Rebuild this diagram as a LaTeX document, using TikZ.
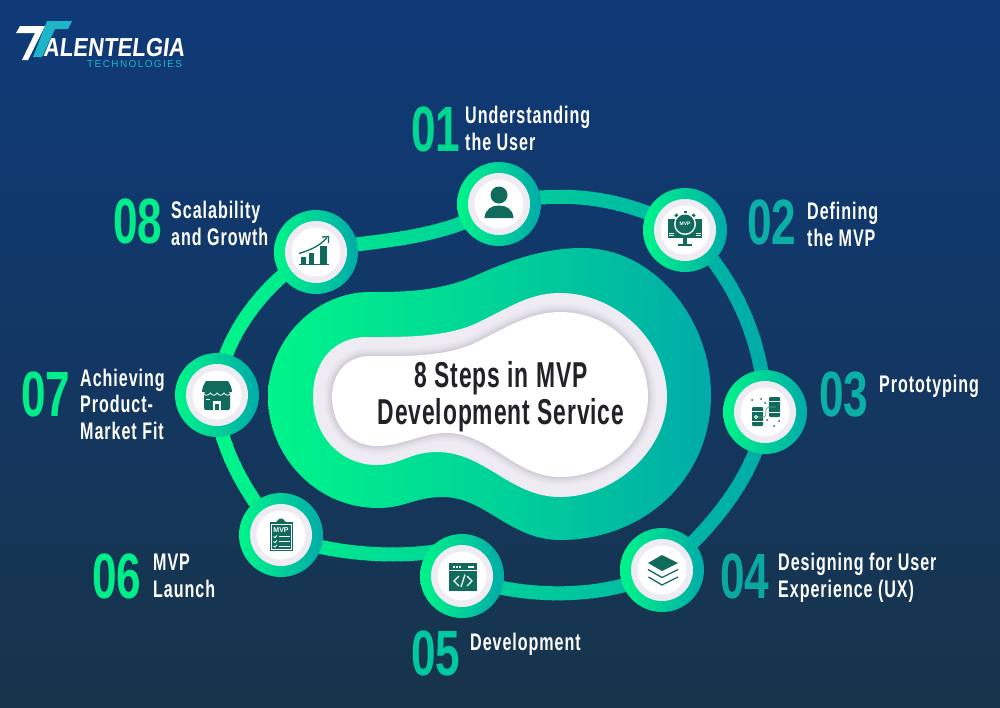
\documentclass[tikz,border=0pt]{standalone}
\usepackage{fontspec}
\setmainfont{Liberation Sans}
\newfontfamily\condfont[FakeStretch=0.67,LetterSpace=4]{Liberation Sans}
\newfontfamily\titlefont[FakeStretch=0.635,LetterSpace=2.5]{Liberation Sans}
\newfontfamily\numfont[FakeStretch=0.69]{Liberation Sans}
\newfontfamily\logofont[FakeSlant=0.12,FakeStretch=0.85]{Liberation Sans}
\newfontfamily\logosub[LetterSpace=14]{Liberation Sans}
\usetikzlibrary{calc}
\definecolor{gStart}{HTML}{00F58A}
\definecolor{gEnd}{HTML}{00ABA8}
\definecolor{bgTop}{HTML}{0F3A78}
\definecolor{bgBottom}{HTML}{17344A}
\definecolor{iconGreen}{HTML}{106B5C}
\definecolor{haloGrey}{HTML}{EEECF2}
\definecolor{haloDark}{HTML}{C9C5D2}
\definecolor{logoCyan}{HTML}{1DB5C8}
\definecolor{titleInk}{HTML}{222226}
\definecolor{numA}{HTML}{00D890}
\definecolor{numB}{HTML}{0AB0A5}
\definecolor{numC}{HTML}{0AA8A0}
\definecolor{numD}{HTML}{00C8A0}
\definecolor{numE}{HTML}{00EE8A}
\pgfdeclarelayer{backdrop}
\pgfdeclarelayer{links}
\pgfsetlayers{backdrop,links,main}
\tikzset{
  stepring/.style={circle,minimum size=84pt,inner sep=0pt,left color=gStart,right color=gEnd,shade},
  stephalo/.style={circle,minimum size=62pt,inner sep=0pt,fill=haloGrey},
  stepface/.style={circle,minimum size=49pt,inner sep=0pt,fill=white},
  steplabel/.style={anchor=base west,inner sep=0pt,text=white,align=left,font=\condfont\bfseries\fontsize{24}{26.5}\selectfont},
  stepnum/.style={anchor=base west,inner sep=0pt,font=\numfont\bfseries\fontsize{64}{64}\selectfont},
  iconfill/.style={fill=iconGreen,draw=none},
  iconline/.style={draw=iconGreen,line width=1.3pt},
}
\newcommand{\stepdisc}[3]{%
  \node[stepring] (#1) at (#2,#3) {};
  \node[stephalo] at (#1) {};
  \node[stepface] at (#1) {};
}
% outlines of the central blob, outside to inside
\newcommand{\blobouter}{(268,397) .. controls (268,340) and (315,292) .. (370,292)
  .. controls (400,292) and (440,292) .. (477,275)
  .. controls (510,260) and (545,248) .. (582,248)
  .. controls (655,248) and (711,320) .. (711,395)
  .. controls (711,478) and (645,540) .. (560,540)
  .. controls (510,540) and (485,497) .. (443,497)
  .. controls (415,497) and (405,508) .. (378,508)
  .. controls (315,508) and (268,455) .. (268,397) -- cycle}
\newcommand{\blobhalo}{(313,397) .. controls (313,360) and (335,337) .. (367,337)
  .. controls (400,337) and (445,338) .. (477,323)
  .. controls (510,307) and (530,293) .. (560,293)
  .. controls (615,293) and (667,340) .. (667,397)
  .. controls (667,450) and (615,497) .. (560,497)
  .. controls (510,497) and (485,452) .. (437,452)
  .. controls (410,452) and (400,465) .. (377,465)
  .. controls (340,465) and (313,435) .. (313,397) -- cycle}
\newcommand{\blobinner}{(332,397) .. controls (332,372) and (348,356) .. (370,356)
  .. controls (400,356) and (445,358) .. (477,342)
  .. controls (505,328) and (530,312) .. (560,312)
  .. controls (610,312) and (648,350) .. (648,397)
  .. controls (648,440) and (610,477) .. (560,477)
  .. controls (515,477) and (490,433) .. (447,433)
  .. controls (420,433) and (403,446) .. (377,446)
  .. controls (350,446) and (332,425) .. (332,397) -- cycle}
\newcommand{\ringlinks}{%
  (s1.center) .. controls (560,190) and (620,195) .. (s2.center)
  (s2.center) .. controls (730,270) and (765,340) .. (s3.center)
  (s3.center) .. controls (760,470) and (712,530) .. (s4.center)
  (s4.center) .. controls (610,600) and (520,600) .. (s5.center)
  (s5in) .. controls (405,560) and (330,555) .. (s6.center)
  (s6.center) .. controls (245,495) and (215,440) .. (s7.center)
  (s7.center) .. controls (220,340) and (265,280) .. (s8.center)
  (s8.center) .. controls (350,240) and (440,245) .. (s1.center)
}
\begin{document}
\begin{tikzpicture}[x=1pt,y=-1pt]
\useasboundingbox (0,0) rectangle (1000,707);
\begin{pgfonlayer}{backdrop}
  \shade[top color=bgTop,bottom color=bgBottom,middle color=bgTop!55!bgBottom] (0,0) rectangle (1000,707);
\end{pgfonlayer}

% central blob
\shade[left color=gStart,right color=gEnd,middle color=gStart!55!gEnd] \blobouter;
\fill[haloGrey] \blobhalo;
\foreach \w/\m in {16/10,12/28,8/46,5/64,2/85}{
  \draw[haloDark!\m!haloGrey,line width=\w pt] \blobinner;
}
\fill[white] \blobinner;
\node[inner sep=0pt,align=center,text=titleInk,font=\titlefont\bfseries\fontsize{36}{37}\selectfont] (title) at (501,397)
  {8 Steps in MVP\\Development Service};

% step discs
\stepdisc{s1}{499}{204}
\stepdisc{s2}{685}{230}
\stepdisc{s3}{765}{412}
\stepdisc{s4}{662}{570}
\stepdisc{s5}{462}{576}
\stepdisc{s6}{281}{535}
\stepdisc{s7}{217}{395}
\stepdisc{s8}{316}{252}
\coordinate (s5in) at ($(s5)+(-10,-28)$);

% ring linking the discs, coloured in narrow vertical bands
\begin{pgfonlayer}{links}
  \foreach \x in {200,208,...,792}{
    \pgfmathsetmacro\p{min(100,max(0,(\x-215)/5.5))}
    \colorlet{bandcol}{gEnd!\p!gStart}
    \begin{scope}
      \clip (\x,0) rectangle (\x+9,707);
      \draw[bandcol,line width=14pt] \ringlinks;
    \end{scope}
  }
\end{pgfonlayer}

% icon 1: user
\fill[iconfill] (499,195) circle (8.5pt);
\fill[iconfill] (484.5,218) .. controls (485,209) and (492,205.5) .. (499,205.5) .. controls (506,205.5) and (513,209) .. (513.5,218) -- cycle;

% icon 2: monitor with gear
\fill[iconfill] (668,219) rectangle (702,237.5);
\fill[iconfill] (683,237.5) rectangle (687,244);
\fill[iconfill] (678,244) rectangle (692,245.5);
\foreach \y in {233,235.5}{\draw[white,line width=0.5pt] (669,\y) -- (674,\y) (696,\y) -- (701,\y);}
\foreach \a in {0,45,...,315}{\draw[iconGreen,line width=3pt] ($(685,224)+(\a:8)$) -- ($(685,224)+(\a:13.5)$);}
\fill[white] (685,224) circle (11pt);
\fill[iconGreen] (685,224) circle (9.5pt);
\node[inner sep=0pt,text=white,font=\bfseries\fontsize{5}{5}\selectfont] (gearmvp) at (685,224) {MVP};

% icon 3: two phones and a link
\fill[iconfill,rounded corners=1pt] (752,407) rectangle (763,426);
\fill[iconfill,rounded corners=1pt] (769,397) rectangle (780,417);
\draw[white,line width=0.5pt] (752,411) -- (763,411) (752,421) -- (763,421) (769,401) -- (780,401) (769,412) -- (780,412);
\draw[iconGreen!60!white,line width=0.8pt] (758,417) -- (764,417) .. controls (768,417) and (763,407) .. (769,407) -- (776,407);
\draw[white,line width=0.8pt] (756,417) circle (1.5pt);
\foreach \a/\b in {752/400,761/399,765/403,767/420,774/426,779/421}{\fill[iconGreen] (\a,\b) circle (1pt);}

% icon 4: layers
\fill[iconfill] (662,555) -- (678,563) -- (662,571) -- (648,563) -- cycle;
\draw[iconline,line join=miter] (648,569.5) -- (662,577.5) -- (678,569.5);
\draw[iconline,line join=miter] (648.5,577) -- (662,585) -- (678,577);

% icon 5: code window
\fill[iconfill] (449,563) rectangle (477,591);
\draw[white,line width=0.7pt] (449,570.5) -- (477,570.5);
\draw[white,line width=1.3pt,dash pattern=on 1.5pt off 1.5pt] (453,567) -- (461,567);
\draw[white,line width=1.3pt] (468,567) -- (474,567);
\draw[white,line width=1.3pt] (459,576) -- (454,581) -- (459,586);
\draw[white,line width=1.3pt] (467,576) -- (472,581) -- (467,586);
\draw[white,line width=1.3pt] (465,574.5) -- (461,587);

% icon 6: clipboard
\fill[iconfill] (269.5,522) rectangle (293,551);
\fill[iconfill] (276,522) -- (278,520) .. controls (279,518) and (283,518) .. (284,520) -- (286,522) -- cycle;
\draw[white,line width=0.6pt] (271.5,524) rectangle (291,549.5);
\node[inner sep=0pt,text=white,font=\bfseries\fontsize{7}{7}\selectfont] (clipmvp) at (281,530) {MVP};
\foreach \y in {536.5,541.5,546}{
  \draw[white,line width=0.9pt] (273.5,\y) -- (275,\y+1) -- (277,\y-1);
  \draw[white,line width=0.9pt] (279,\y) -- (289.5,\y);
}

% icon 7: shop front
\fill[iconfill,rounded corners=2pt] (204,392) rectangle (230,410);
\fill[iconfill] (206,381) -- (228,381) .. controls (230,384) and (232,388) .. (232,392) -- (202,392) .. controls (202,388) and (204,384) .. (206,381) -- cycle;
\draw[white,line width=0.8pt] (203,393) .. controls (205,396) and (208,396) .. (210.5,393) .. controls (212.5,396) and (215,396) .. (217,393) .. controls (219,396) and (222,396) .. (224,393) .. controls (226,396) and (229,396) .. (231,393);
\fill[white] (213,401) rectangle (221,410);
\fill[iconGreen] (215.2,403.5) rectangle (218.8,410);
\draw[white,line width=0.8pt] (206,399) -- (210,399);

% icon 8: growth chart
\fill[iconfill] (301,257) rectangle (306,264);
\fill[iconfill] (309,253) rectangle (314,264);
\fill[iconfill] (320,246) rectangle (327,264);
\draw[iconline] (299,264.8) -- (329,264.8);
\draw[iconline] (299,253.5) .. controls (311,250) and (321,245) .. (327,237.5);
\draw[iconline] (322,237) -- (328.5,236.5) -- (328.5,243);

% step numbers and captions
\node[stepnum,text=numA] (n1) at (411,151) {01};
\node[steplabel] (l1) at (465,150) {Understanding\\the User};
\node[stepnum,text=numB] (n2) at (747,244) {02};
\node[steplabel] (l2) at (807,246) {Defining\\the MVP};
\node[stepnum,text=numB] (n3) at (819,416) {03};
\node[steplabel] (l3) at (879,392) {Prototyping};
\node[stepnum,text=numC] (n4) at (720,598) {04};
\node[steplabel] (l4) at (778,597) {Designing for User\\Experience (UX)};
\node[stepnum,text=numD] (n5) at (411,675) {05};
\node[steplabel] (l5) at (470,650) {Development};
\node[stepnum,text=numE] (n6) at (92,598) {06};
\node[steplabel] (l6) at (153,597) {MVP\\Launch};
\node[stepnum,text=numE] (n7) at (21,416) {07};
\node[steplabel] (l7) at (80,439) {Achieving\\Product-\\Market Fit};
\node[stepnum,text=numE] (n8) at (113,243) {08};
\node[steplabel] (l8) at (171,245) {Scalability\\and Growth};

% company mark
\fill[white] (20,26) -- (45,26) -- (28,60) -- (22,60) -- (35,33) -- (16,33) -- cycle;
\fill[logoCyan] (47,21) -- (72,21) -- (68,29) -- (55,29) -- (42,57) -- (33,57) -- cycle;
\node[anchor=base west,inner sep=0pt,text=white,font=\logofont\bfseries\fontsize{26}{26}\selectfont] (brand) at (43,56) {ALENTELGIA};
\node[anchor=base west,inner sep=0pt,text=logoCyan,font=\logosub\fontsize{10}{10}\selectfont] (brandsub) at (87,67) {TECHNOLOGIES};
\end{tikzpicture}
\end{document}
